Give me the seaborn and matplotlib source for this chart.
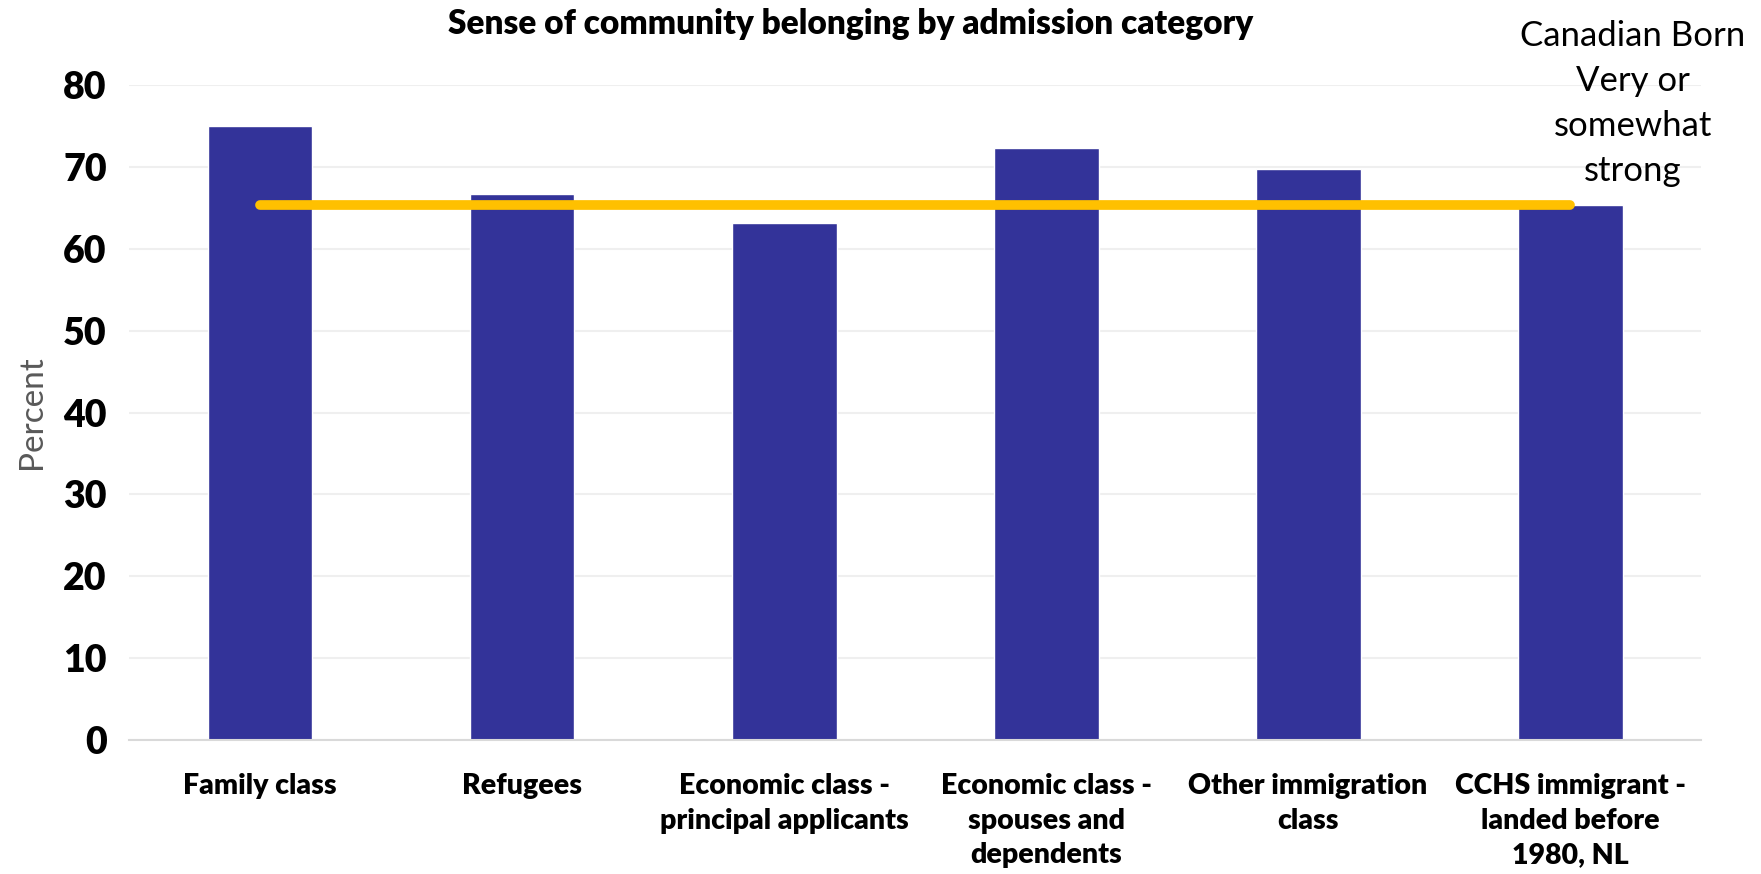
import matplotlib
matplotlib.use("Agg")
import matplotlib.pyplot as plt
import seaborn as sns
import pandas as pd

categories = [
    "Family class",
    "Refugees",
    "Economic class -\nprincipal applicants",
    "Economic class -\nspouses and\ndependents",
    "Other immigration\nclass",
    "CCHS immigrant -\nlanded before\n1980, NL",
]
belonging_pct = [75.0, 66.7, 63.2, 72.3, 69.8, 65.4]
canadian_born_pct = [65.4, 65.4, 65.4, 65.4, 65.4, 65.4]
y_ticks = [0, 10, 20, 30, 40, 50, 60, 70, 80]

sns.set_theme(style="white")
plt.rcParams["font.family"] = ["Lato", "DejaVu Sans"]

df = pd.DataFrame({"category": categories, "pct": belonging_pct, "cb": canadian_born_pct})

fig = plt.figure(figsize=(17.61, 8.74), dpi=100)
ax = fig.add_axes([0.0733, 0.1533, 0.8927, 0.7494])

sns.barplot(data=df, x="category", y="pct", color="#333399", width=0.4,
            saturation=1, ax=ax, zorder=2)
sns.lineplot(data=df, x="category", y="cb", color="#FFC000", linewidth=7,
             sort=False, ax=ax, zorder=3, solid_capstyle="round")

ax.set_xlim(-0.5, 5.5)
ax.set_ylim(0, 80)
ax.set_yticks(y_ticks)
ax.set_yticklabels([str(t) for t in y_ticks], fontsize=27, fontweight="heavy", color="black")
ax.tick_params(axis="y", length=0, pad=16)
ax.tick_params(axis="x", length=0, pad=24)
ax.set_xticks(range(len(categories)))
ax.set_xticklabels(categories, fontsize=20.5, fontweight="heavy", color="black",
                   linespacing=1.4, va="top", ha="center")
ax.yaxis.grid(True, color="#EFEFEF", linewidth=1.5, zorder=0)
ax.set_axisbelow(True)
for side in ["top", "right", "left"]:
    ax.spines[side].set_visible(False)
ax.spines["bottom"].set_color("#D9D9D9")
ax.spines["bottom"].set_linewidth(1.5)
ax.set_xlabel("")
ax.set_ylabel("Percent", fontsize=24, color="#595959", labelpad=12)

fig.text(0.483, 0.972, "Sense of community belonging by admission category",
         fontsize=24, fontweight="heavy", ha="center", va="center", color="black")

ax.text(5.24, 77.8, "Canadian Born\nVery or\nsomewhat\nstrong", fontsize=25,
        ha="center", va="center", linespacing=1.5, color="black", clip_on=False,
        transform=ax.transData)

fig.savefig("out.png", dpi=100)
